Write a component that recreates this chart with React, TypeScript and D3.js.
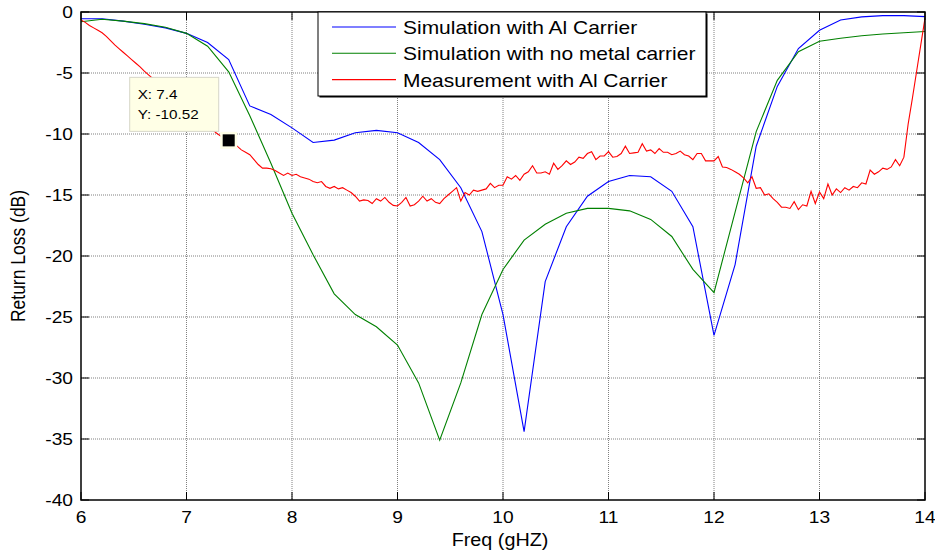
import React, { useEffect, useRef } from "react";
import * as d3 from "d3";

const width = 935;
const height = 553;

// frequencies of the simulated points (GHz)
const simFreq = [
  6.0, 6.2, 6.4, 6.6, 6.8, 7.0, 7.2, 7.4, 7.6, 7.8, 8.0, 8.2, 8.4, 8.6, 8.8, 9.0, 9.2, 9.4, 9.6, 9.8, 10.0,
  10.2, 10.4, 10.6, 10.8, 11.0, 11.2, 11.4, 11.6, 11.8, 12.0, 12.2, 12.4, 12.6, 12.8, 13.0, 13.2, 13.4, 13.6,
  13.8, 14.0
];
const simAlCarrier = [
  -0.55, -0.55, -0.75, -1.0, -1.3, -1.75, -2.5, -3.9, -7.7, -8.4, -9.5, -10.7, -10.5, -9.9, -9.7, -9.9, -10.7,
  -12.1, -14.4, -18.0, -24.8, -34.4, -22.1, -17.6, -15.1, -13.9, -13.4, -13.5, -14.7, -17.6, -26.5, -20.7,
  -11.0, -6.1, -3.0, -1.5, -0.66, -0.4, -0.3, -0.3, -0.38
];
const simNoMetal = [
  -0.8, -0.6, -0.75, -0.95, -1.25, -1.75, -2.8, -4.9, -8.5, -12.4, -16.5, -19.9, -23.1, -24.8, -25.8, -27.3,
  -30.4, -35.1, -30.4, -24.8, -21.1, -18.7, -17.4, -16.5, -16.1, -16.1, -16.3, -17.0, -18.4, -21.1, -23.0,
  -16.4, -9.8, -5.6, -3.25, -2.4, -2.15, -1.95, -1.8, -1.7, -1.6
];

// measured sweep, 6 to 14 GHz in 0.04 GHz steps
const measFreq = d3.range(0, 201).map(i => +(6 + i * 0.04).toFixed(2));
const measAlCarrier = [
  -0.65, -0.85, -1.1, -1.3, -1.5, -1.7, -2.0, -2.35, -2.7, -3.0,
  -3.3, -3.6, -3.9, -4.2, -4.5, -4.85, -5.15, -5.45, -5.8, -6.1,
  -6.4, -6.7, -7.0, -7.3, -7.6, -7.85, -8.1, -8.4, -8.7, -9.0,
  -9.3, -9.6, -9.9, -10.15, -10.35, -10.52, -10.8, -11.0, -11.3, -11.5,
  -11.7, -12.1, -12.5, -12.8, -12.8, -12.85, -13.0, -13.2, -13.4, -13.2,
  -13.4, -13.3, -13.5, -13.6, -13.7, -13.9, -14.0, -13.9, -14.3, -14.45,
  -14.3, -14.5, -14.4, -14.6, -14.8, -15.1, -15.5, -15.4, -15.45, -15.7,
  -15.3, -15.5, -15.2, -15.6, -15.85, -15.9, -15.6, -15.2, -15.9, -15.8,
  -15.5, -15.1, -15.5, -15.3, -15.6, -15.7, -15.3, -15.0, -14.7, -14.4,
  -15.5, -14.8, -15.0, -14.6, -14.7, -14.6, -14.5, -14.05, -14.4, -14.2,
  -14.2, -13.5, -13.7, -13.4, -13.8, -13.3, -13.1, -12.6, -13.2, -13.2,
  -13.1, -13.3, -12.4, -12.9, -12.6, -12.2, -12.5, -12.3, -11.9, -12.0,
  -11.6, -11.45, -12.1, -11.8, -11.8, -11.45, -11.9, -11.85, -11.6, -11.0,
  -11.6, -11.55, -11.5, -10.8, -11.4, -11.3, -11.6, -11.2, -11.5, -11.5,
  -11.7, -11.6, -11.4, -11.7, -11.8, -12.1, -11.6, -11.6, -12.2, -12.2,
  -12.2, -11.85, -12.7, -12.75, -12.9, -13.1, -13.3, -13.6, -14.0, -13.5,
  -14.45, -14.4, -15.0, -14.9, -15.3, -15.6, -16.0, -16.0, -16.1, -15.55,
  -16.2, -15.8, -15.9, -14.7, -15.7, -14.75, -15.3, -14.1, -15.0, -14.5,
  -14.8, -14.4, -14.6, -14.3, -14.4, -14.0, -14.1, -12.95, -13.3, -13.1,
  -12.8, -12.9, -12.7, -12.1, -12.6, -11.9, -9.2, -7.1, -4.9, -2.7,
  -0.5
];

const xTicks = [6, 7, 8, 9, 10, 11, 12, 13, 14];
const yTicks = [0, -5, -10, -15, -20, -25, -30, -35, -40];

const legendLabels = [
  "Simulation with Al Carrier",
  "Simulation with no metal carrier",
  "Measurement with Al Carrier"
];
const colors = ["#0000FF", "#008000", "#FF0000"];

const tip = { x: 7.4, y: -10.52 };

const font = "'Liberation Sans', Arial, sans-serif";
const stretch = 1.13; // the reference is slightly wide

const App = () => {
  const chart = useRef<SVGSVGElement>(null);

  useEffect(() => {
    const svg = d3.select(chart.current);
    svg.selectAll("*").remove();

    const x = d3.scaleLinear().domain([6, 14]).range([81, 925]);
    const y = d3.scaleLinear().domain([-40, 0]).range([500, 12]);

    // stretched text helper
    const label = (g, tx, ty, s, size, anchor, sx = stretch) =>
      g
        .append("text")
        .attr("transform", `translate(${tx},${ty}) scale(${sx},1)`)
        .attr("text-anchor", anchor)
        .attr("font-family", font)
        .attr("font-size", size)
        .attr("fill", "#000")
        .text(s);

    svg
      .append("defs")
      .append("clipPath")
      .attr("id", "plot-clip")
      .append("rect")
      .attr("x", x(6))
      .attr("y", y(0))
      .attr("width", x(14) - x(6))
      .attr("height", y(-40) - y(0));

    // grid
    const grid = svg.append("g");
    grid
      .selectAll("line.gx")
      .data(xTicks.slice(1, -1))
      .join("line")
      .attr("x1", d => x(d))
      .attr("x2", d => x(d))
      .attr("y1", y(0))
      .attr("y2", y(-40))
      .attr("stroke", "#808080")
      .attr("stroke-dasharray", "1,1");
    grid
      .selectAll("line.gy")
      .data(yTicks.slice(1, -1))
      .join("line")
      .attr("x1", x(6))
      .attr("x2", x(14))
      .attr("y1", d => y(d))
      .attr("y2", d => y(d))
      .attr("stroke", "#808080")
      .attr("stroke-dasharray", "1,1");

    // series
    const line = d3
      .line<[number, number]>()
      .x(d => x(d[0]))
      .y(d => y(d[1]));
    const series = [
      d3.zip(simFreq, simAlCarrier),
      d3.zip(simFreq, simNoMetal),
      d3.zip(measFreq, measAlCarrier)
    ];
    svg
      .append("g")
      .attr("clip-path", "url(#plot-clip)")
      .selectAll("path")
      .data(series)
      .join("path")
      .attr("d", d => line(d as [number, number][]))
      .attr("fill", "none")
      .attr("stroke", (d, i) => colors[i])
      .attr("stroke-width", 1.1);

    // axes box + inward ticks
    const axes = svg.append("g").attr("stroke", "#000");
    axes
      .append("rect")
      .attr("x", x(6))
      .attr("y", y(0))
      .attr("width", x(14) - x(6))
      .attr("height", y(-40) - y(0))
      .attr("fill", "none")
      .attr("stroke-width", 1.5);
    axes
      .selectAll("line.tb")
      .data(xTicks)
      .join("line")
      .attr("x1", d => x(d))
      .attr("x2", d => x(d))
      .attr("y1", y(-40))
      .attr("y2", y(-40) - 8);
    axes
      .selectAll("line.tt")
      .data(xTicks)
      .join("line")
      .attr("x1", d => x(d))
      .attr("x2", d => x(d))
      .attr("y1", y(0))
      .attr("y2", y(0) + 8);
    axes
      .selectAll("line.tl")
      .data(yTicks)
      .join("line")
      .attr("x1", x(6))
      .attr("x2", x(6) + 8)
      .attr("y1", d => y(d))
      .attr("y2", d => y(d));
    axes
      .selectAll("line.tr")
      .data(yTicks)
      .join("line")
      .attr("x1", x(14))
      .attr("x2", x(14) - 8)
      .attr("y1", d => y(d))
      .attr("y2", d => y(d));

    // tick labels
    const labels = svg.append("g");
    xTicks.forEach(t => label(labels, x(t), 523, String(t), 17, "middle"));
    yTicks.forEach(t => label(labels, 73, y(t) + 6, String(t), 17, "end"));

    label(labels, 500, 546, "Freq (gHZ)", 17.5, "middle");
    labels
      .append("text")
      .attr("transform", `translate(25,${(y(0) + y(-40)) / 2}) rotate(-90) scale(1,${stretch})`)
      .attr("text-anchor", "middle")
      .attr("font-family", font)
      .attr("font-size", 17.5)
      .text("Return Loss (dB)");

    // legend
    const lg = svg.append("g");
    const lx = 318,
      ly = 12,
      lw = 388,
      lh = 84;
    lg.append("rect")
      .attr("x", lx + 1.5)
      .attr("y", ly + 1.5)
      .attr("width", lw)
      .attr("height", lh)
      .attr("fill", "#000");
    lg.append("rect")
      .attr("x", lx)
      .attr("y", ly)
      .attr("width", lw)
      .attr("height", lh)
      .attr("fill", "#fff")
      .attr("stroke", "#000")
      .attr("stroke-width", 1);
    legendLabels.forEach((s, i) => {
      const cy = ly + 15 + i * 26.3;
      lg.append("line")
        .attr("x1", 332)
        .attr("x2", 396)
        .attr("y1", cy)
        .attr("y2", cy)
        .attr("stroke", colors[i])
        .attr("stroke-width", 1.1);
      label(lg, 403, cy + 7, s, 18, "start", 1.165);
    });

    // data tip
    const tx = x(tip.x),
      ty = y(tip.y);
    const tg = svg.append("g");
    tg.append("rect")
      .attr("x", tx - 99)
      .attr("y", ty - 63)
      .attr("width", 89)
      .attr("height", 54)
      .attr("fill", "#FFFFE6")
      .attr("stroke", "#d6d6c8")
      .attr("stroke-width", 1);
    label(tg, tx - 91, ty - 41, `X: ${tip.x}`, 13.5, "start");
    label(tg, tx - 91, ty - 21, `Y: ${tip.y}`, 13.5, "start");
    tg.append("rect")
      .attr("x", tx - 8.5)
      .attr("y", ty - 8.5)
      .attr("width", 17)
      .attr("height", 17)
      .attr("fill", "#FFFFE6");
    tg.append("rect")
      .attr("x", tx - 6)
      .attr("y", ty - 6)
      .attr("width", 12)
      .attr("height", 12)
      .attr("fill", "#000");
  }, []);

  return (
    <svg
      ref={chart}
      width={width}
      height={height}
      viewBox={`0 0 ${width} ${height}`}
      style={{ position: "absolute", left: 0, top: 0, background: "#fff" }}
    ></svg>
  );
};

export default App;
